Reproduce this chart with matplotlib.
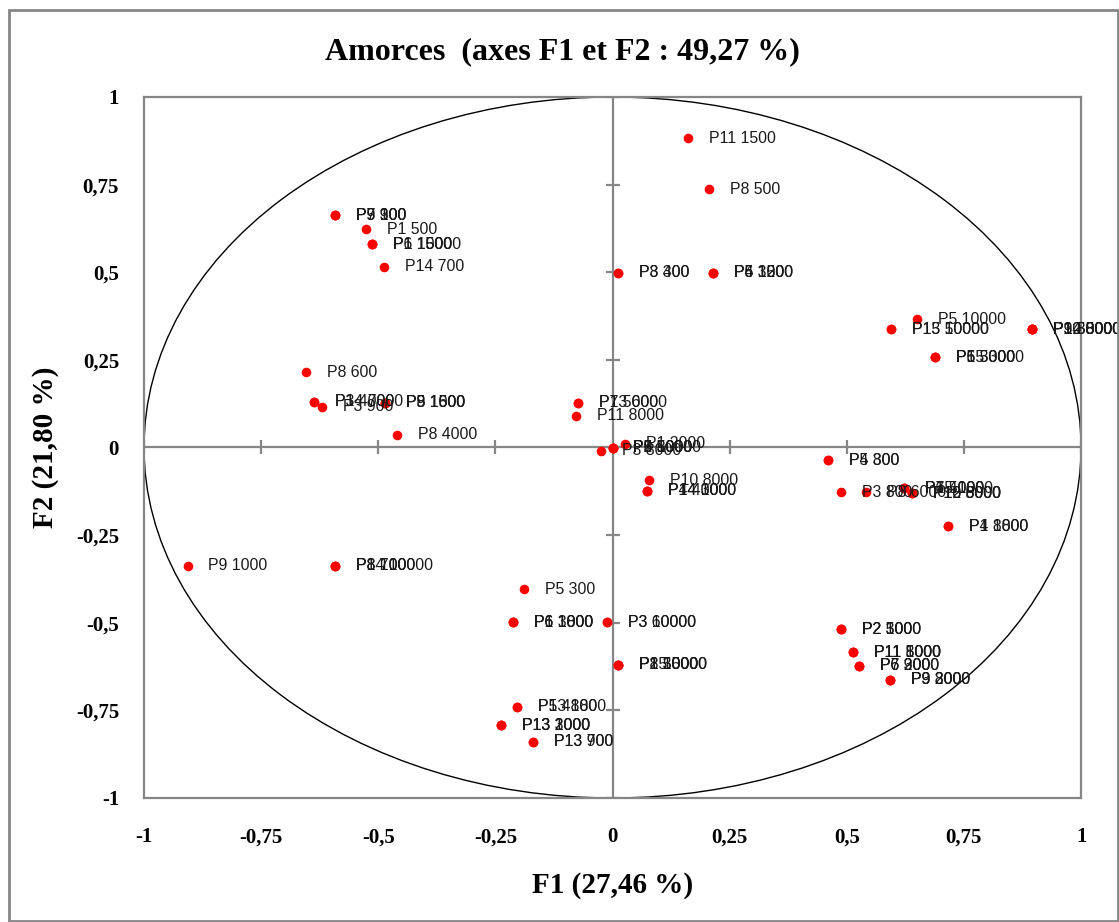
import numpy as np
import matplotlib.pyplot as plt
from matplotlib.patches import Circle, Rectangle

# coordonnées des amorces sur F1 / F2
f1 = [0.161, 0.206,
      -0.592, -0.592, -0.592,
      -0.526,
      -0.513, -0.513, -0.513,
      -0.488,
      0.012, 0.012,
      0.214, 0.214, 0.214,
      0.650,
      0.594, 0.594,
      0.895, 0.895, 0.895, 0.895, 0.895,
      0.688, 0.688, 0.688,
      -0.654,
      -0.637, -0.637,
      -0.620,
      -0.486, -0.486, -0.486,
      -0.460,
      -0.074, -0.074,
      -0.078,
      0.027,
      0.000, 0.000, 0.000, 0.000,
      -0.025,
      0.078,
      0.074, 0.074, 0.074,
      0.460, 0.460,
      0.488,
      0.541,
      0.622, 0.622, 0.622,
      0.639, 0.639, 0.639,
      0.716, 0.716,
      -0.907,
      -0.592, -0.592, -0.592,
      -0.189,
      -0.213, -0.213, -0.213,
      -0.012, -0.012,
      0.488, 0.488, 0.488,
      0.513, 0.513, 0.513,
      0.526, 0.526, 0.526,
      0.592, 0.592, 0.592,
      0.012, 0.012, 0.012, 0.012,
      -0.204, -0.204,
      -0.238, -0.238, -0.238,
      -0.170, -0.170]
f2 = [0.883, 0.737,
      0.663, 0.663, 0.663,
      0.623,
      0.580, 0.580, 0.580,
      0.515,
      0.498, 0.498,
      0.498, 0.498, 0.498,
      0.366,
      0.338, 0.338,
      0.338, 0.338, 0.338, 0.338, 0.338,
      0.258, 0.258, 0.258,
      0.215,
      0.130, 0.130,
      0.116,
      0.127, 0.127, 0.127,
      0.036,
      0.127, 0.127,
      0.090,
      0.010,
      -0.001, -0.001, -0.001, -0.001,
      -0.010,
      -0.093,
      -0.124, -0.124, -0.124,
      -0.036, -0.036,
      -0.127,
      -0.127,
      -0.116, -0.116, -0.116,
      -0.130, -0.130, -0.130,
      -0.224, -0.224,
      -0.338,
      -0.338, -0.338, -0.338,
      -0.404,
      -0.498, -0.498, -0.498,
      -0.498, -0.498,
      -0.518, -0.518, -0.518,
      -0.584, -0.584, -0.584,
      -0.623, -0.623, -0.623,
      -0.663, -0.663, -0.663,
      -0.620, -0.620, -0.620, -0.620,
      -0.740, -0.740,
      -0.792, -0.792, -0.792,
      -0.840, -0.840]
labels = ["P11 1500", "P8 500",
          "P5 900", "P9 100", "P7 300",
          "P1 500",
          "P6 1500", "P1 1500", "P1 10000",
          "P14 700",
          "P8 300", "P3 400",
          "P4 1500", "P5 1200", "P6 300",
          "P5 10000",
          "P13 50000", "P15 10000",
          "P10 5000", "P12 8000", "P9 5000", "P14 3000", "P3 3000",
          "P5 5000", "P6 3000", "P15 3000",
          "P8 600",
          "P14 7000", "P3 4000",
          "P3 900",
          "P8 1500", "P9 1000", "P5 1600",
          "P8 4000",
          "P7 5000", "P13 6000",
          "P11 8000",
          "P1 2000",
          "P5 8000", "P6 5000", "P2 10000", "P9 5000",
          "P3 8000",
          "P10 8000",
          "P14 3000", "P14 1000", "P4 4000",
          "P4 800", "P5 300",
          "P3 800",
          "P8 6000",
          "P7 5000", "P15 1000", "P6 4000",
          "P12 5000", "P10 6000", "P15 8000",
          "P4 1800", "P1 8000",
          "P9 1000",
          "P8 700", "P14 10000", "P8 1000",
          "P5 300",
          "P6 1800", "P1 3000", "P6 1000",
          "P3 10000", "P3 60000",
          "P2 1000", "P2 500", "P2 3000",
          "P11 5000", "P11 1000", "P11 8000",
          "P6 900", "P7 2000", "P6 3000",
          "P9 800", "P3 3000", "P9 2000",
          "P8 5000", "P2 3000", "P1 10000", "P15 5000",
          "P5 4800", "P13 1800",
          "P13 1000", "P13 3000", "P13 2000",
          "P13 700", "P13 900"]

ticks = [-1, -0.75, -0.5, -0.25, 0, 0.25, 0.5, 0.75, 1]
tick_labels = ["-1", "-0,75", "-0,5", "-0,25", "0", "0,25", "0,5", "0,75", "1"]

gray = '#868686'
serif = 'Liberation Serif'

fig = plt.figure(figsize=(11.19, 9.22), dpi=100)
ax = fig.add_axes([0.1287, 0.1345, 0.8374, 0.7603])

# cercle des corrélations
ax.add_patch(Circle((0, 0), 1, fill=False, edgecolor='black', lw=1.0, zorder=1))

# axes centraux avec graduations
ax.axhline(0, color=gray, lw=1.6, zorder=1)
ax.axvline(0, color=gray, lw=1.6, zorder=1)
tk = np.array(ticks)
ax.plot(tk, np.zeros_like(tk), ls='none', marker='|', ms=10, mew=1.6, color=gray, zorder=1)
ax.plot(np.zeros_like(tk), tk, ls='none', marker='_', ms=10, mew=1.6, color=gray, zorder=1)

ax.scatter(f1, f2, s=48, color='#ff0000', zorder=3, linewidths=0)
for x, y, lab in zip(f1, f2, labels):
    ax.annotate(lab, (x, y), xytext=(15, 0), textcoords='offset points',
                ha='left', va='center', fontsize=11.4, color='#1a1a1a',
                family='Liberation Sans', annotation_clip=False, zorder=4)

ax.set_xlim(-1, 1)
ax.set_ylim(-1, 1)
ax.set_xticks(ticks)
ax.set_xticklabels(tick_labels)
ax.set_yticks(ticks)
ax.set_yticklabels(tick_labels)
ax.tick_params(length=0, labelsize=15)
ax.tick_params(axis='x', pad=21)
ax.tick_params(axis='y', pad=18)
for t in ax.get_xticklabels() + ax.get_yticklabels():
    t.set_fontfamily(serif)
    t.set_fontweight('bold')
for s in ax.spines.values():
    s.set_color(gray)
    s.set_linewidth(1.6)

fig.text(0.5025, 0.944, "Amorces  (axes F1 et F2 : 49,27 %)", ha='center', va='center',
         fontsize=23, fontweight='bold', family=serif)
fig.text(0.547, 0.040, "F1 (27,46 %)", ha='center', va='center',
         fontsize=21, fontweight='bold', family=serif)
fig.text(0.041, 0.515, "F2 (21,80 %)", ha='center', va='center', rotation=90,
         fontsize=21, fontweight='bold', family=serif)

# cadre extérieur
fig.patches.append(Rectangle((9 / 1119, 1 / 922), 1109 / 1119, 911 / 922,
                             transform=fig.transFigure, fill=False,
                             edgecolor=gray, lw=2))

fig.savefig('out.png', dpi=100)
